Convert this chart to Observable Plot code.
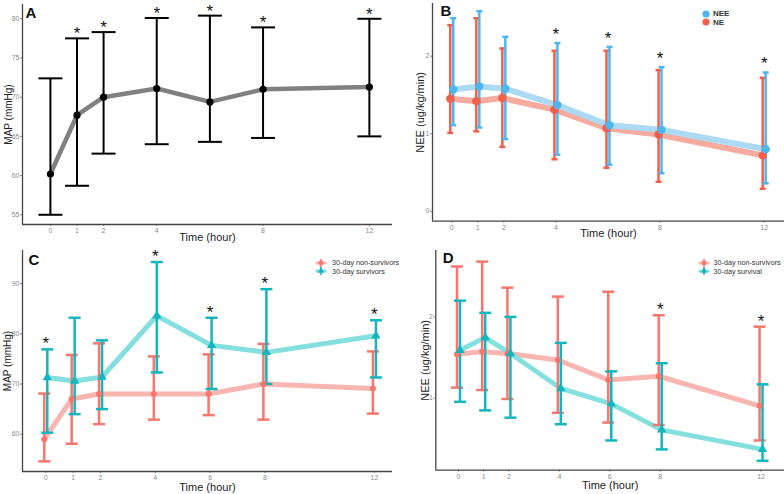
<!DOCTYPE html>
<html><head><meta charset="utf-8">
<script src="https://cdn.jsdelivr.net/npm/d3@7"></script>
<script src="https://cdn.jsdelivr.net/npm/@observablehq/plot@0.6"></script>
<style>
body{margin:0;background:#fff;font-family:"Liberation Sans",Arial,sans-serif;}
#wrap{position:relative;width:784px;height:494px;overflow:hidden;background:#fff;}
.panel{position:absolute;}
.legend{position:absolute;font-size:7.2px;color:#333;}
.legend .row{display:flex;align-items:center;height:8.5px;white-space:nowrap;}
.legend svg{display:block;overflow:visible;}
</style></head><body><div id="wrap"></div>
<script>
// ---------- data ----------
const hours = [0, 1, 2, 4, 6, 8, 12];
const ticksAB = [0, 1, 2, 4, 8, 12];
const ticksCD = [0, 1, 2, 4, 6, 8, 12];

// Panel A: MAP (mmHg)
const aMean = [60.2, 67.7, 70.0, 71.1, 69.4, 71.0, 71.3];
const aLow  = [55.0, 58.7, 62.8, 64.0, 64.3, 64.8, 65.0];
const aHigh = [72.4, 77.5, 78.3, 80.1, 80.4, 78.9, 80.0];
const aStars = [1, 2, 4, 6, 8, 12];
const aTicksY = [55, 60, 65, 70, 75, 80];

// Panel B: NEE vs NE (ug/kg/min)
const bNeeMean = [1.57, 1.61, 1.58, 1.37, 1.11, 1.05, 0.80];
const bNeeLow  = [1.11, 1.08, 0.93, 0.73, 0.60, 0.49, 0.36];
const bNeeHigh = [2.49, 2.58, 2.25, 2.17, 2.12, 1.86, 1.79];
const bNeMean  = [1.45, 1.42, 1.46, 1.31, 1.07, 0.99, 0.72];
const bNeLow   = [1.01, 1.03, 0.83, 0.67, 0.56, 0.38, 0.29];
const bNeHigh  = [2.40, 2.49, 2.10, 2.07, 2.07, 1.82, 1.72];
const bStars = [4, 6, 8, 12];
const bTicksY = [0, 1, 2];
const bLegend = ["NEE", "NE"];

// Panel C: MAP by 30-day outcome
const cNonMean  = [59.0, 67.0, 68.0, 68.0, 68.0, 70.0, 69.1];
const cNonLow   = [54.6, 58.1, 62.0, 62.9, 63.8, 62.9, 64.1];
const cNonHigh  = [68.1, 75.8, 78.1, 75.5, 75.9, 78.0, 76.5];
const cSurvMean = [71.3, 70.6, 71.4, 83.6, 77.7, 76.3, 79.6];
const cSurvLow  = [60.3, 64.0, 65.0, 72.3, 69.0, 70.0, 71.3];
const cSurvHigh = [76.9, 83.2, 78.7, 94.3, 83.2, 88.9, 82.7];
const cStars = [0, 4, 6, 8, 12];
const cTicksY = [60, 70, 80, 90];
const cLegend = ["30-day non-survivors", "30-day survivors"];

// Panel D: NEE by 30-day outcome
const dNonMean  = [1.54, 1.57, 1.55, 1.47, 1.225, 1.27, 0.906];
const dNonLow   = [1.13, 1.10, 0.99, 0.82, 0.70, 0.67, 0.48];
const dNonHigh  = [2.62, 2.68, 2.36, 2.25, 2.31, 2.02, 1.88];
const dSurvMean = [1.59, 1.746, 1.55, 1.12, 0.93, 0.61, 0.37];
const dSurvLow  = [0.955, 0.85, 0.76, 0.68, 0.48, 0.37, 0.23];
const dSurvHigh = [2.20, 2.05, 2.00, 1.68, 1.33, 1.43, 1.17];
const dStars = [8, 12];
const dTicksY = [1, 2];
const dLegend = ["30-day non-survivors", "30-day survival"];

// ---------- styling ----------
const RED_BAR = "#f0604a", RED_LINE = "#f6ab9e";
const BLUE_BAR = "#4db6ec", BLUE_LINE = "#acdaf3";
const PINK_BAR = "#f7766d", PINK_LINE = "#f9b6b1";
const TEAL_BAR = "#13b6bc", TEAL_LINE = "#84dfdf";
const FONT = "Liberation Sans, Arial, sans-serif";

function cap(w) {
  return {draw(ctx) { ctx.moveTo(-w, 0); ctx.lineTo(w, 0); }};
}

function makePanel(cfg) {
  const series = cfg.series.map(s => ({...s, rows: hours.map((t, i) => ({t, mean: s.mean[i], low: s.low[i], high: s.high[i]}))}));
  const marks = [];
  for (const s of series) marks.push(Plot.line(s.rows, {x: "t", y: "mean", stroke: s.line, strokeWidth: cfg.lineW, dx: s.dx, strokeLinejoin: "round"}));
  for (const s of series) {
    marks.push(Plot.ruleX(s.rows, {x: "t", y1: "low", y2: "high", stroke: s.bar, strokeWidth: cfg.barW, dx: s.dx}));
    marks.push(Plot.dot(s.rows, {x: "t", y: "low", symbol: cap(cfg.capW), fill: "none", stroke: s.bar, strokeWidth: cfg.capSW, dx: s.dx}));
    marks.push(Plot.dot(s.rows, {x: "t", y: "high", symbol: cap(cfg.capW), fill: "none", stroke: s.bar, strokeWidth: cfg.capSW, dx: s.dx}));
  }
  for (const s of series) marks.push(Plot.dot(s.rows, {x: "t", y: "mean", fill: s.dot, r: s.r, symbol: s.symbol, dx: s.dx}));
  const starRows = cfg.stars.map(t => ({t, y: d3.max(series, s => s.rows.find(r => r.t === t).high)}));
  marks.push(Plot.text(starRows, {x: "t", y: "y", text: () => "*", dy: cfg.starDy, fontSize: 17, fill: "#111", lineAnchor: "bottom"}));
  // axes
  marks.push(Plot.axisX({ticks: cfg.xTicks, tickFormat: d3.format("~g"), tickSize: 2, tickPadding: 2, fontSize: 7, color: "#8a8a8a", label: null}));
  marks.push(Plot.axisY({ticks: cfg.yTicks, tickFormat: d3.format("~g"), tickSize: 2, tickPadding: 1, fontSize: 7, color: "#8a8a8a", label: null}));
  marks.push(Plot.ruleY([cfg.yDomain[0]], {stroke: "#444", strokeWidth: 1.3}));
  marks.push(Plot.ruleX([cfg.xDomain[0]], {stroke: "#444", strokeWidth: 1.3}));
  // titles
  marks.push(Plot.text(["Time (hour)"], {text: d => d, frameAnchor: "bottom", textAnchor: "middle", lineAnchor: "middle", dy: cfg.xLabDy, fontSize: 11, fill: "#222"}));
  marks.push(Plot.text([cfg.yLabel], {text: d => d, frameAnchor: "left", textAnchor: "middle", lineAnchor: "middle", rotate: -90, dx: cfg.yLabDx, fontSize: cfg.yLabSize, fill: "#222"}));
  marks.push(Plot.text([cfg.letter], {text: d => d, frameAnchor: "top-left", textAnchor: "start", lineAnchor: "top", dx: cfg.letterDx, dy: cfg.letterDy, fontSize: 15, fontWeight: "bold", fill: "#111"}));

  const svg = Plot.plot({
    width: 392, height: 247,
    marginLeft: cfg.margin[0], marginRight: 0, marginTop: cfg.margin[1], marginBottom: cfg.margin[2],
    x: {domain: cfg.xDomain},
    y: {domain: cfg.yDomain},
    style: {fontFamily: FONT, background: "transparent", overflow: "visible"},
    marks
  });
  svg.classList.add("panel");
  svg.style.left = cfg.left + "px";
  svg.style.top = cfg.top + "px";
  document.getElementById("wrap").appendChild(svg);
}

function makeLegend(left, top, labels, keys, style) {
  const div = document.createElement("div");
  div.className = "legend";
  div.style.left = left + "px";
  div.style.top = top + "px";
  Object.assign(div.style, style || {});
  labels.forEach((lab, i) => {
    const row = document.createElement("div");
    row.className = "row";
    const k = keys[i];
    const s = d3.create("svg").attr("width", 12).attr("height", 8);
    if (k.kind === "circle") {
      s.append("circle").attr("cx", 6).attr("cy", 4).attr("r", 3.6).attr("fill", k.bar);
    } else {
      s.append("line").attr("x1", 0.5).attr("x2", 11.5).attr("y1", 4).attr("y2", 4).attr("stroke", k.line).attr("stroke-width", 3);
      s.append("line").attr("x1", 6).attr("x2", 6).attr("y1", 0).attr("y2", 8).attr("stroke", k.bar).attr("stroke-width", 1.5);
      if (k.kind === "tri") s.append("path").attr("d", d3.symbol(d3.symbolTriangle, 18)()).attr("transform", "translate(6,4)").attr("fill", k.bar);
      else s.append("circle").attr("cx", 6).attr("cy", 4).attr("r", 2.4).attr("fill", k.bar);
    }
    row.appendChild(s.node());
    const sp = document.createElement("span");
    sp.textContent = lab;
    sp.style.marginLeft = k.gap + "px";
    row.appendChild(sp);
    div.appendChild(row);
  });
  document.getElementById("wrap").appendChild(div);
}

// ---------- panels ----------
makePanel({
  left: 0, top: 0, margin: [22, 4, 23],
  xDomain: [-1.05, 12.87], yDomain: [53.76, 81.82],
  xTicks: ticksAB, yTicks: aTicksY, yLabel: "MAP (mmHg)", letter: "A",
  lineW: 4.5, barW: 2, capSW: 2, capW: 12, starDy: 1,
  xLabDy: 13, yLabDx: -14, yLabSize: 10, letterDx: 3, letterDy: 3,
  stars: aStars,
  series: [{mean: aMean, low: aLow, high: aHigh, line: "#808080", bar: "#000", dot: "#000", r: 3.6, symbol: "circle", dx: 0}]
});

makePanel({
  left: 392, top: 0, margin: [40, 3, 26.3],
  xDomain: [-0.74, 12.78], yDomain: [-0.129, 2.68],
  xTicks: ticksAB, yTicks: bTicksY, yLabel: "NEE (ug/kg/min)", letter: "B",
  lineW: 6, barW: 2.5, capSW: 2.5, capW: 3, starDy: -3,
  xLabDy: 12.6, yLabDx: -12, yLabSize: 11, letterDx: 8, letterDy: 2,
  stars: bStars,
  series: [
    {mean: bNeMean, low: bNeLow, high: bNeHigh, line: RED_LINE, bar: RED_BAR, dot: RED_BAR, r: 4.2, symbol: "circle", dx: -1.5},
    {mean: bNeeMean, low: bNeeLow, high: bNeeHigh, line: BLUE_LINE, bar: BLUE_BAR, dot: BLUE_BAR, r: 4.2, symbol: "circle", dx: 1.5}
  ]
});

makePanel({
  left: 0, top: 247, margin: [22, 3, 23],
  xDomain: [-0.85, 12.66], yDomain: [52.57, 96.6],
  xTicks: ticksCD, yTicks: cTicksY, yLabel: "MAP (mmHg)", letter: "C",
  lineW: 5, barW: 2.5, capSW: 2.5, capW: 6, starDy: 0,
  xLabDy: 16, yLabDx: -15, yLabSize: 10, letterDx: 6, letterDy: 4,
  stars: cStars,
  series: [
    {mean: cNonMean, low: cNonLow, high: cNonHigh, line: PINK_LINE, bar: PINK_BAR, dot: PINK_BAR, r: 3, symbol: "circle", dx: -1.5},
    {mean: cSurvMean, low: cSurvLow, high: cSurvHigh, line: TEAL_LINE, bar: TEAL_BAR, dot: TEAL_BAR, r: 3.5, symbol: "triangle", dx: 1.5}
  ]
});

makePanel({
  left: 392, top: 247, margin: [43.3, 3, 24.3],
  xDomain: [-0.9, 12.93], yDomain: [0.114, 2.817],
  xTicks: ticksCD, yTicks: dTicksY, yLabel: "NEE (ug/kg/min)", letter: "D",
  lineW: 5, barW: 2.5, capSW: 2.5, capW: 6, starDy: 0,
  xLabDy: 15.6, yLabDx: -10, yLabSize: 11, letterDx: 7, letterDy: 2,
  stars: dStars,
  series: [
    {mean: dNonMean, low: dNonLow, high: dNonHigh, line: PINK_LINE, bar: PINK_BAR, dot: PINK_BAR, r: 3, symbol: "circle", dx: -1.5},
    {mean: dSurvMean, low: dSurvLow, high: dSurvHigh, line: TEAL_LINE, bar: TEAL_BAR, dot: TEAL_BAR, r: 3.5, symbol: "triangle", dx: 1.5}
  ]
});

// ---------- legends ----------
makeLegend(700, 9.5, bLegend, [
  {kind: "circle", bar: BLUE_BAR, gap: 1},
  {kind: "circle", bar: RED_BAR, gap: 1}
], {fontWeight: "bold", fontSize: "8px"});
makeLegend(315, 258.5, cLegend, [
  {kind: "dot", bar: PINK_BAR, line: PINK_LINE, gap: 5},
  {kind: "tri", bar: TEAL_BAR, line: TEAL_LINE, gap: 5}
]);
makeLegend(697.5, 258.5, dLegend, [
  {kind: "dot", bar: PINK_BAR, line: PINK_LINE, gap: 4},
  {kind: "tri", bar: TEAL_BAR, line: TEAL_LINE, gap: 4}
]);
</script></body></html>
